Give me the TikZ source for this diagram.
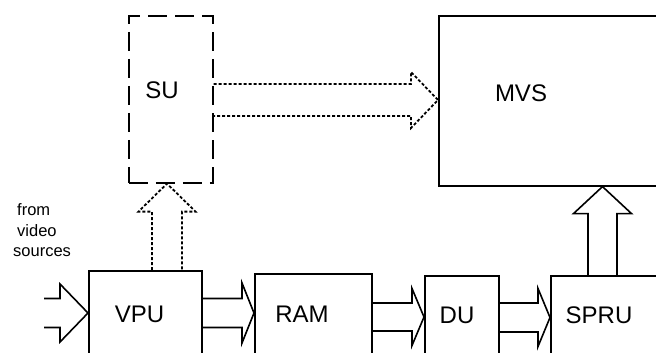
\documentclass[tikz,border=0pt]{standalone}
\usepackage{fontspec}
\setmainfont{Liberation Sans}
\usetikzlibrary{calc}
\newcommand\hblockarrow[6]{\draw[#1] ($(#2)+(0,-#4)$) -- ($(#3)+(-#6,-#4)$) -- ($(#3)+(-#6,-#5)$) -- (#3) -- ($(#3)+(-#6,#5)$) -- ($(#3)+(-#6,#4)$) -- ($(#2)+(0,#4)$);}
\newcommand\vblockarrow[6]{\draw[#1] ($(#2)+(-#4,0)$) -- ($(#3)+(-#4,#6)$) -- ($(#3)+(-#5,#6)$) -- (#3) -- ($(#3)+(#5,#6)$) -- ($(#3)+(#4,#6)$) -- ($(#2)+(#4,0)$);}
\tikzset{
  box/.style={draw, line width=1.6pt, rectangle, inner sep=0pt, anchor=north west},
  dashbox/.style={box, dash pattern=on 19pt off 8pt},
  lbl/.style={font=\fontsize{24}{28}\selectfont, inner sep=0pt, anchor=base},
  small/.style={font=\fontsize{16.5}{20}\selectfont, inner sep=0pt, anchor=base west},
  solidarrow/.style={line width=1.6pt},
  dotarrow/.style={line width=1.8pt, dash pattern=on 3pt off 2pt},
}
\begin{document}
\begin{tikzpicture}[x=1pt,y=-1pt]
\useasboundingbox (0,0) rectangle (656,353);
\fill[white] (0,0) rectangle (656,353);
\clip (0,0) rectangle (656,353);
% boxes
\node[dashbox, minimum width=84pt, minimum height=167pt] (su) at (128,15) {};
\node[box, minimum width=260pt, minimum height=170pt] (mvs) at (438,15) {};
\node[box, minimum width=113pt, minimum height=110pt] (vpu) at (88,270) {};
\node[box, minimum width=117pt, minimum height=110pt] (ram) at (254,273) {};
\node[box, minimum width=74pt, minimum height=110pt] (du) at (424,275) {};
\node[box, minimum width=150pt, minimum height=110pt] (spru) at (550,275) {};
% labels
\node[lbl] (sut) at (162,98) {SU};
\node[lbl] (mvst) at (521,101) {MVS};
\node[lbl] (vput) at (139.5,322) {VPU};
\node[lbl] (ramt) at (302,322) {RAM};
\node[lbl] (dut) at (457,323) {DU};
\node[lbl] (sprut) at (599,323) {SPRU};
\node[small] (from1) at (17,215) {from};
\node[small] (from2) at (17,236) {video};
\node[small] (from3) at (13,256) {sources};
% helper coordinates
\coordinate (src) at (44,313);
\coordinate (y1) at (0,313);
\coordinate (y2) at (0,317);
\coordinate (y3) at (0,317.5);
\coordinate (y4) at (0,100);
\coordinate (x1) at (167,0);
\coordinate (x2) at (602.5,0);
% solid block arrows
\hblockarrow{solidarrow}{src}{vpu.west |- y1}{14.5}{29}{28}
\hblockarrow{solidarrow}{vpu.east |- y1}{ram.west |- y1}{14.5}{30}{12}
\hblockarrow{solidarrow}{ram.east |- y2}{du.west |- y2}{14}{28.5}{12}
\hblockarrow{solidarrow}{du.east |- y3}{spru.west |- y3}{14.5}{29}{12}
\vblockarrow{solidarrow}{spru.north -| x2}{mvs.south -| x2}{14.5}{29}{27}
% dotted block arrows
\hblockarrow{dotarrow}{su.east |- y4}{mvs.west |- y4}{16}{28}{27}
\vblockarrow{dotarrow}{vpu.north -| x1}{su.south -| x1}{15}{28.5}{28}
\end{tikzpicture}
\end{document}
